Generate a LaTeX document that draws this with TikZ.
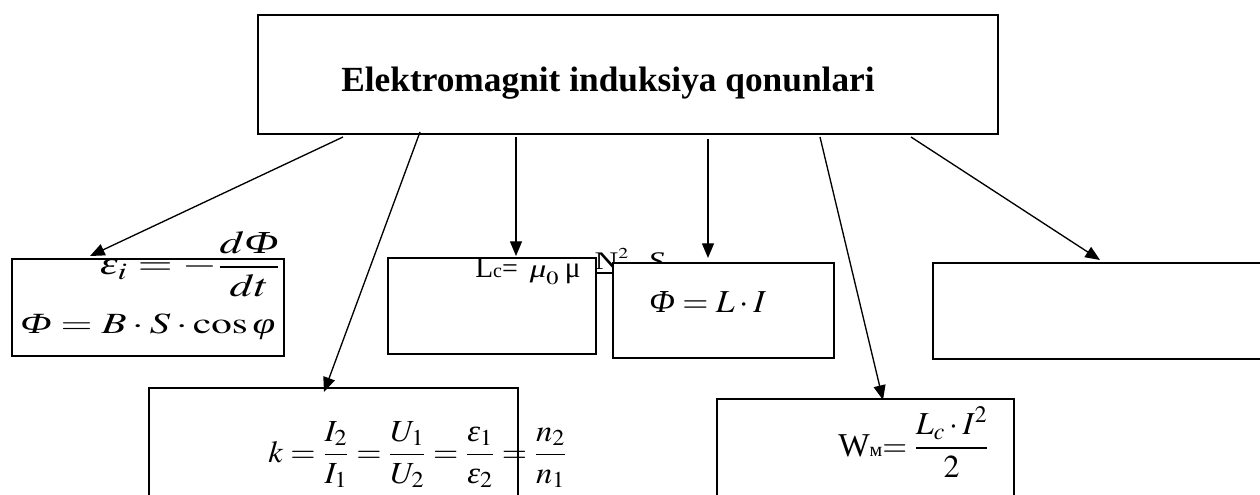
\documentclass[tikz,border=0pt]{standalone}
\usepackage{mathptmx}
\usepackage{fontspec}
\setmainfont{Liberation Serif}
\usetikzlibrary{arrows.meta}
\newcommand{\mi}[1]{\mbox{\itshape #1}}
\begin{document}
\begin{tikzpicture}[x=0.75pt,y=-0.75pt,
  box/.style={draw,line width=1.3pt,fill=white,inner sep=0pt,anchor=north west},
  arr/.style={-{Triangle[length=11pt,width=9pt]},line width=1pt},
  txt/.style={inner sep=0pt,font=\fontsize{22}{26}\selectfont}]
\useasboundingbox (0,0) rectangle (1260,495);
\clip (0,0) rectangle (1260,495);
% boxes
\node[box,minimum width=555pt,minimum height=89.25pt] (top) at (257,14) {};
\node[box,minimum width=204pt,minimum height=72.75pt] (b1) at (11,258) {};
\node[box,minimum width=156pt,minimum height=72pt] (b2) at (387,257) {};
\node[box,minimum width=253.5pt,minimum height=72pt] (b4) at (932,262) {};
\node[box,minimum width=276.75pt,minimum height=100pt] (b5) at (148,387) {};
\node[box,minimum width=222.75pt,minimum height=100pt] (b6) at (716,398) {};
% title
\node[inner sep=0pt,anchor=base,font=\bfseries\fontsize{26.5}{30}\selectfont] (title) at (608,92) {Elektromagnit induksiya qonunlari};
% formulas
\node[txt,anchor=base east,font=\fontsize{24}{28}\selectfont] (f1) at (281,275) {\scalebox{1.4}[1]{$\displaystyle \mi{ε}_i = -\frac{d\mi{Φ}}{dt}$}};
\node[txt,anchor=base west] (f2) at (20,334) {\scalebox{1.4}[1]{$\mi{Φ} = B\cdot S\cdot \cos\mi{φ}$}};
\node[inner sep=0pt,anchor=base west,font=\fontsize{19}{22}\selectfont] (f3) at (475,278)
  {{\fontsize{22}{24}\selectfont L}{\fontsize{15}{17}\selectfont c}{\fontsize{21}{24}\selectfont =}\hspace{9pt}\scalebox{1.3}[1]{$\mi{μ}_0$}\hspace{4pt}{\fontsize{22}{24}\selectfont μ}\hspace{9pt}\raisebox{-1pt}{\scalebox{1.3}[1]{$\frac{\mbox{N}^{2}\hspace{11pt}\mbox{\itshape S}}{l}$}}};
\node[box,minimum width=165.75pt,minimum height=71.25pt] (b3) at (612,262) {};
\node[txt,anchor=base west,font=\fontsize{24}{28}\selectfont] (f4) at (649,312) {\scalebox{1.05}[1]{$\mi{Φ} = L\cdot I$}};
\node[txt,anchor=base west,font=\fontsize{23}{27}\selectfont] (f5) at (268,462) {\scalebox{1.06}[1]{$\displaystyle k=\frac{I_2}{I_1}=\frac{U_1}{U_2}=\frac{\mi{ε}_1}{\mi{ε}_2}=\frac{n_2}{n_1}$}};
\node[txt,anchor=base west,font=\fontsize{24}{27}\selectfont] (f6) at (838,456) {{\fontsize{25}{28}\selectfont W}{\fontsize{15}{17}\selectfont м}$\displaystyle=\frac{L_c\cdot I^2}{2}$};
% connector ends
\coordinate (s1) at (343,137); \coordinate (e1) at (90,256);
\coordinate (s2) at (420,132); \coordinate (e2) at (324,392);
\coordinate (s3) at (516,137); \coordinate (e3) at (516,256);
\coordinate (s4) at (708,139); \coordinate (e4) at (708,258);
\coordinate (s5) at (820,137); \coordinate (e5) at (883,400);
\coordinate (s6) at (911,137); \coordinate (e6) at (1100,260);
\foreach \i in {1,...,6} {\draw[arr] (s\i) -- (e\i);}
\end{tikzpicture}
\end{document}
